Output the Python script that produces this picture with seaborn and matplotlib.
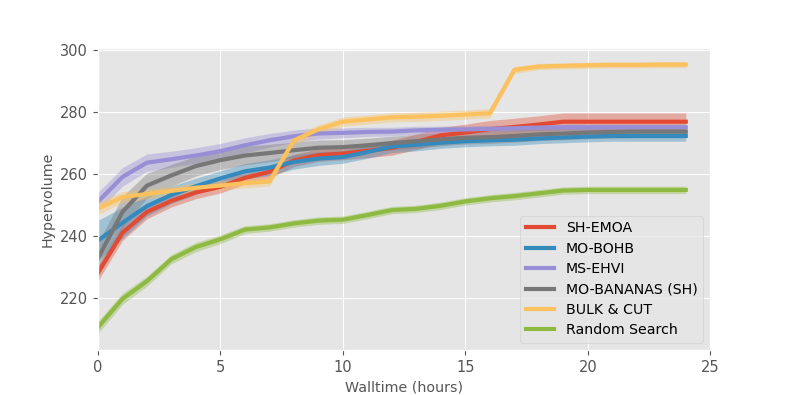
import matplotlib
matplotlib.use('Agg')
import matplotlib.pyplot as plt
import seaborn as sns
import pandas as pd

hours = list(range(25))

sh_emoa = [228.0, 241.0, 247.7, 251.3, 254.0, 255.8, 258.7, 260.6, 264.3, 266.0, 266.5, 267.4,
           268.4, 270.3, 272.4, 273.3, 274.4, 275.1, 275.9, 276.8, 276.8, 276.8, 276.8, 276.8, 276.8]
mo_bohb = [238.5, 244.2, 249.6, 253.2, 256.0, 258.5, 260.8, 262.0, 263.8, 264.9, 265.4, 267.0,
           268.8, 269.4, 270.0, 270.5, 270.8, 271.0, 271.4, 271.7, 272.0, 272.2, 272.2, 272.2, 272.2]
ms_ehvi = [251.0, 259.0, 263.6, 264.7, 265.9, 267.3, 269.2, 270.8, 272.1, 273.0, 273.2, 273.5,
           273.6, 274.0, 274.2, 274.3, 274.5, 274.7, 274.9, 275.0, 275.0, 275.0, 275.0, 275.0, 275.0]
mo_bananas = [232.8, 247.7, 256.2, 259.5, 262.5, 264.4, 265.9, 266.7, 267.6, 268.4, 268.6, 269.2,
              269.9, 270.5, 271.1, 271.6, 271.8, 272.2, 272.7, 273.0, 273.3, 273.5, 273.6, 273.6, 273.6]
bulk_cut = [248.8, 252.5, 253.5, 254.5, 255.5, 256.2, 257.0, 257.5, 270.8, 274.3, 276.8, 277.5,
            278.2, 278.4, 278.7, 279.1, 279.5, 293.5, 294.6, 294.8, 295.0, 295.1, 295.1, 295.2, 295.2]
random_search = [210.5, 219.7, 225.4, 232.5, 236.4, 238.9, 242.0, 242.7, 244.0, 244.9, 245.2, 246.7,
                 248.3, 248.7, 249.7, 251.1, 252.1, 252.8, 253.7, 254.6, 254.8, 254.8, 254.8, 254.8, 254.8]

# half width of the shaded band
sh_emoa_err = [2.5, 2.5, 2.2, 2.0, 2.0, 2.0, 2.0, 2.0, 2.0, 2.0, 2.0, 2.2,
               2.4, 2.5, 2.6, 2.7, 2.8, 2.8, 2.8, 2.8, 2.8, 2.8, 2.8, 2.8, 2.8]
mo_bohb_err = [6.5, 5.0, 3.2, 2.8, 2.6, 2.5, 2.5, 2.5, 2.3, 2.2, 2.0, 2.0,
               2.0, 2.0, 1.8, 1.8, 1.8, 1.8, 1.7, 1.7, 1.7, 1.7, 1.7, 1.7, 1.7]
ms_ehvi_err = [3.0, 3.0, 2.8, 2.6, 2.5, 2.5, 2.4, 2.2, 2.0, 1.8, 1.6, 1.5,
               1.4, 1.3, 1.2, 1.2, 1.1, 1.0, 1.0, 1.0, 1.0, 1.0, 1.0, 1.0, 1.0]
mo_bananas_err = [5.0, 5.0, 4.0, 3.5, 3.2, 3.0, 3.0, 2.8, 2.6, 2.5, 2.4, 2.3,
                  2.2, 2.2, 2.1, 2.0, 2.0, 2.0, 2.0, 2.0, 2.0, 2.0, 2.0, 2.0, 2.0]
bulk_cut_err = [2.0, 1.8, 1.6, 1.5, 1.5, 1.5, 1.5, 1.5, 1.5, 1.5, 1.5, 1.5,
                1.5, 1.5, 1.5, 1.5, 1.5, 1.2, 1.0, 1.0, 1.0, 1.0, 1.0, 1.0, 1.0]
random_search_err = [2.0, 1.8, 1.6, 1.5, 1.5, 1.4, 1.3, 1.2, 1.2, 1.2, 1.2, 1.2,
                     1.2, 1.2, 1.2, 1.2, 1.2, 1.2, 1.2, 1.2, 1.2, 1.2, 1.2, 1.2, 1.2]

methods = ["SH-EMOA", "MO-BOHB", "MS-EHVI", "MO-BANANAS (SH)", "BULK & CUT", "Random Search"]
means = [sh_emoa, mo_bohb, ms_ehvi, mo_bananas, bulk_cut, random_search]
errs = [sh_emoa_err, mo_bohb_err, ms_ehvi_err, mo_bananas_err, bulk_cut_err, random_search_err]
colors = ["#E24A33", "#348ABD", "#988ED5", "#777777", "#FBC15E", "#8EBA42"]

plt.style.use('ggplot')
plt.rcParams['font.family'] = ['DejaVu Sans']

rows = []
for name, m, e in zip(methods, means, errs):
    for h, v, s in zip(hours, m, e):
        rows.append({"hours": h, "hv": v, "err": s, "method": name})
df = pd.DataFrame(rows)

fig = plt.figure(figsize=(7.89, 3.95), dpi=100)
ax = fig.add_axes([0.1242, 0.114, 0.776, 0.764])

for name, c in zip(methods, colors):
    d = df[df["method"] == name]
    ax.fill_between(d["hours"], d["hv"] - d["err"], d["hv"] + d["err"],
                    color=c, alpha=0.38, linewidth=0)

sns.lineplot(data=df, x="hours", y="hv", hue="method", palette=colors,
             hue_order=methods, linewidth=3, ax=ax)

ax.set_xlim(0, 25)
ax.set_ylim(203.2, 300.5)
ax.set_xticks([0, 5, 10, 15, 20, 25])
ax.set_yticks([220, 240, 260, 280, 300])
ax.tick_params(labelsize=10.5, colors="#555555", labelcolor="#555555")
ax.set_xlabel("Walltime (hours)", fontsize=10.3, color="#555555")
ax.set_ylabel("Hypervolume", fontsize=10.3, color="#555555")

leg = ax.legend(loc="lower right", fontsize=10.2, labelspacing=0.45)
for line in leg.get_lines():
    line.set_linewidth(3)

fig.savefig("out.png", dpi=100)
